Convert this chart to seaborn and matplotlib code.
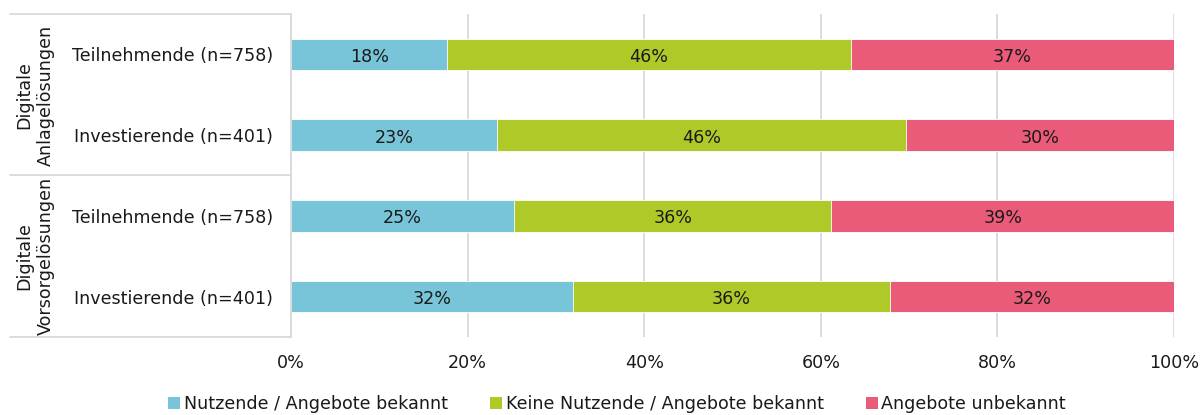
import matplotlib
matplotlib.use("Agg")
import matplotlib.pyplot as plt
import seaborn as sns
import pandas as pd
import numpy as np
from matplotlib.patches import Patch
from matplotlib.lines import Line2D

# ---- data ----
row_labels = ["Teilnehmende (n=758)", "Investierende (n=401)",
              "Teilnehmende (n=758)", "Investierende (n=401)"]
group_labels = ["Digitale\nAnlagelösungen", "Digitale\nVorsorgelösungen"]
series_names = ["Nutzende / Angebote bekannt",
                "Keine Nutzende / Angebote bekannt",
                "Angebote unbekannt"]
nutzende = [17.7, 23.3, 25.3, 31.9]
keine_nutzende = [45.7, 46.4, 35.9, 35.9]
unbekannt = [36.6, 30.3, 38.8, 32.2]
x_ticks = [0, 20, 40, 60, 80, 100]

colors = ["#78C5D9", "#AFCA28", "#EA5B79"]

sns.set_theme(style="white")
plt.rcParams["font.family"] = ["DejaVu Sans"]
FS = 12.6
TC = "#1a1a1a"

ids = [f"r{i}" for i in range(len(row_labels))]
df = pd.DataFrame({"id": ids, "s0": nutzende, "s1": keine_nutzende, "s2": unbekannt})
vals = [df["s0"].values, df["s1"].values, df["s2"].values]
cums = np.cumsum(np.vstack(vals), axis=0)

fig = plt.figure(figsize=(12.03, 4.15), dpi=100)
ax = fig.add_axes([291 / 1203, 1 - 337 / 415, (1174 - 291) / 1203, (337 - 14) / 415])

# draw from total to first segment so that each layer shows its segment
for k in range(2, -1, -1):
    sns.barplot(x=cums[k], y=ids, order=ids, orient="h", color=colors[k],
                width=0.39, ax=ax, saturation=1, edgecolor="white", linewidth=0.6)

# labels
for k in range(3):
    starts = cums[k] - vals[k]
    for i in range(len(ids)):
        ax.text(starts[i] + vals[k][i] / 2, i + 0.03, f"{vals[k][i]:.0f}%",
                ha="center", va="center", fontsize=FS, color=TC)

ax.set_xlim(0, 100)
ax.set_ylim(3.5, -0.5)
ax.set_xticks(x_ticks)
ax.set_xticklabels([f"{t}%" for t in x_ticks], fontsize=FS, color=TC)
ax.set_yticks(range(len(ids)))
ax.set_yticklabels(row_labels, fontsize=FS, color=TC)
ax.tick_params(axis="y", length=0, pad=13)
ax.tick_params(axis="x", length=0, pad=12)
ax.set_xlabel("")
ax.set_ylabel("")
ax.grid(axis="x", color="#D9D9D9", linewidth=1.3)
ax.set_axisbelow(True)
for side in ["top", "right", "bottom"]:
    ax.spines[side].set_visible(False)
ax.spines["left"].set_color("#D9D9D9")
ax.spines["left"].set_linewidth(1.3)

# group separators (table-like)
W, H = 1203, 415
def fl(x0, y0, x1, y1):
    fig.add_artist(Line2D([x0 / W, x1 / W], [1 - y0 / H, 1 - y1 / H],
                          color="#D9D9D9", linewidth=1.3))
fl(10, 14, 291, 14)
fl(10, 175, 291, 175)
fl(10, 337, 291, 337)

for g, yc in zip(group_labels, [95, 256]):
    fig.text(35 / W, 1 - yc / H, g, rotation=90, ha="center", va="center",
             fontsize=FS, color=TC, linespacing=1.3, multialignment="center")

handles = [Patch(facecolor=c, edgecolor="none") for c in colors]
fig.legend(handles, series_names, loc="center", bbox_to_anchor=(617 / W, 1 - 404 / H),
           ncol=3, frameon=False, fontsize=FS, handlelength=0.7, handleheight=0.7,
           handletextpad=0.2, columnspacing=2.4, labelcolor=TC)

fig.savefig("out.png", dpi=100)
